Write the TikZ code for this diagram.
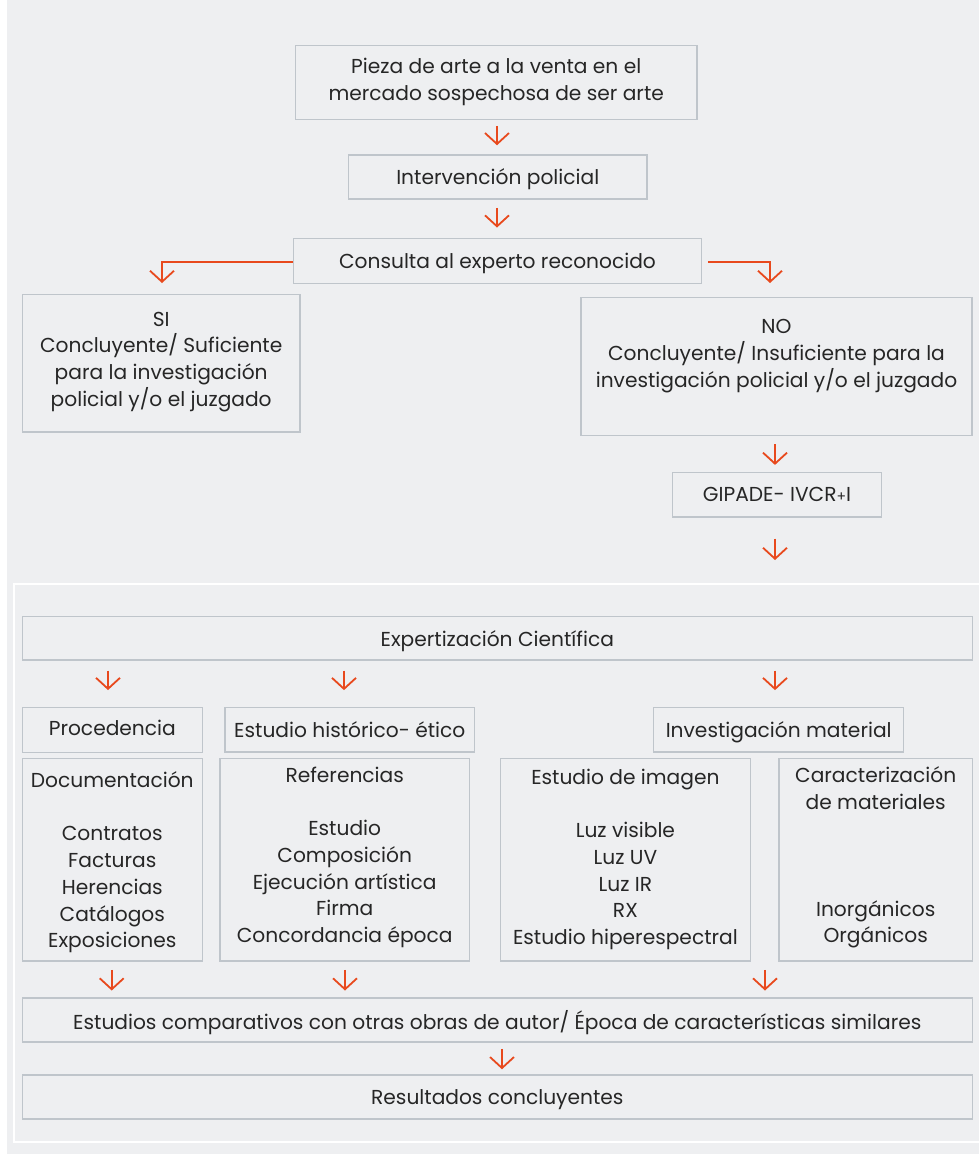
\documentclass[tikz,border=0pt]{standalone}
\usepackage{fontspec}
\setmainfont{Poppins}
\usetikzlibrary{arrows.meta}
\definecolor{bg}{HTML}{EEEFF1}
\definecolor{boxline}{HTML}{BFC5CB}
\definecolor{orng}{HTML}{E8491D}
\definecolor{txt}{HTML}{262626}
\tikzset{
  box/.style={draw=boxline, line width=1.5pt, fill=bg, text=txt, align=center,
    inner sep=0pt, text depth=0pt, font=\fontsize{20.2pt}{26.7pt}\selectfont},
  arr/.style={draw=orng, line width=1.8pt,
    -{Straight Barb[length=11pt,width=24pt,line width=1.8pt]}},
}
\begin{document}
\begin{tikzpicture}[x=1pt,y=-1pt]
\useasboundingbox (0,0) rectangle (979,1154);
\fill[bg] (0,0) rectangle (979,1154);
\fill[white] (0,0) rectangle (7,1154);
\draw[white, line width=2pt] (990,584) -- (14,584) -- (14,1142) -- (990,1142);

% top part
\node[box, text depth=6pt, minimum width=401.5pt, minimum height=74pt] (pieza) at (496.25,82.5)
  {Pieza de arte a la venta en el\\mercado sospechosa de ser arte};
\node[box, minimum width=298.5pt, minimum height=44pt] (interv) at (497.75,177)
  {Intervención policial};
\node[box, minimum width=408pt, minimum height=45pt] (consulta) at (497.5,260.8)
  {Consulta al experto reconocido};
\node[box, text depth=8pt, minimum width=277.7pt, minimum height=137.7pt] (si) at (161.2,363.2)
  {SI\\Concluyente/ Suficiente\\para la investigación\\policial y/o el juzgado};
\node[box, minimum width=391pt, minimum height=138pt] (no) at (776.5,366.7)
  {NO\\Concluyente/ Insuficiente para la\\investigación policial y/o el juzgado\\~};
\node[box, minimum width=209.4pt, minimum height=44.3pt] (gipade) at (777,494.8)
  {GIPADE- IVCR{\fontsize{14pt}{14pt}\selectfont+}I};
\coordinate (frametop) at (775,584);

% lower part
\node[box, minimum width=950pt, minimum height=43.3pt] (expert) at (497.3,638.3)
  {Expertización Científica};
\node[box, text depth=4pt, minimum width=180pt, minimum height=45pt] (proc) at (112.3,729.8)
  {Procedencia};
\node[box, minimum width=249.7pt, minimum height=44.7pt] (hist) at (349.8,729.7)
  {Estudio histórico- ético};
\node[box, minimum width=250pt, minimum height=44.7pt] (invmat) at (778.7,729.7)
  {Investigación material};
\node[box, minimum width=180pt, minimum height=202.7pt] (doc) at (112.3,859.7)
  {Documentación\\~\\Contratos\\Facturas\\Herencias\\Catálogos\\Exposiciones};
\node[box, text depth=10pt, minimum width=249.3pt, minimum height=202.7pt] (ref) at (344.7,859.7)
  {Referencias\\~\\Estudio\\Composición\\Ejecución artística\\Firma\\Concordancia época};
\node[box, text depth=6pt, minimum width=249.7pt, minimum height=202.7pt] (img) at (625.4,859.7)
  {Estudio de imagen\\~\\Luz visible\\Luz UV\\Luz IR\\RX\\Estudio hiperespectral};
\node[box, text depth=10pt, minimum width=193.3pt, minimum height=202.7pt] (car) at (875.7,859.7)
  {Caracterización\\de materiales\\~\\~\\~\\Inorgánicos\\Orgánicos};
\node[box, minimum width=950pt, minimum height=44.3pt] (comp) at (497.3,1019.9)
  {Estudios comparativos con otras obras de autor/ Época de características similares};
\node[box, minimum width=950pt, minimum height=44pt] (res) at (497.3,1097)
  {Resultados concluyentes};

% connectors
\draw[arr] ([yshift=-5.5]pieza.south -| 497,0) -- ([yshift=9]interv.north -| 497,0);
\draw[arr] ([yshift=-8]interv.south -| 497,0) -- ([yshift=10]consulta.north -| 497,0);
\draw[arr] (consulta.west |- 0,261.7) -| (162,283);
\draw[arr] ([xshift=5.5]consulta.east |- 0,262.3) -| (770,283);
\draw[arr] ([yshift=-8]no.south -| 775,0) -- ([yshift=7]gipade.north -| 775,0);
\draw[arr] ([yshift=-21]gipade.south -| 775,0) -- ([yshift=24]frametop);
\draw[arr] ([yshift=-10]expert.south -| 108,0) -- ([yshift=16.5]proc.north -| 108,0);
\draw[arr] ([yshift=-10]expert.south -| 344,0) -- ([yshift=16.5]hist.north -| 344,0);
\draw[arr] ([yshift=-10]expert.south -| 775,0) -- ([yshift=16.5]invmat.north -| 775,0);
\draw[arr] ([yshift=-8]doc.south -| 111.7,0) -- ([yshift=6.5]comp.north -| 111.7,0);
\draw[arr] ([yshift=-8]ref.south -| 345,0) -- ([yshift=6.5]comp.north -| 345,0);
\draw[arr] ([yshift=-8]car.south -| 765,0) -- ([yshift=6.5]comp.north -| 765,0);
\draw[arr] ([yshift=-6]comp.south -| 502,0) -- ([yshift=5]res.north -| 502,0);
\end{tikzpicture}
\end{document}
